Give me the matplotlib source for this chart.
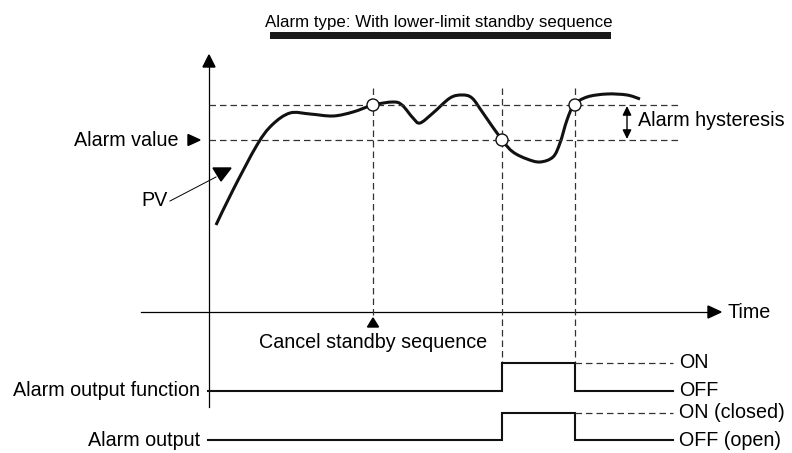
import numpy as np
import matplotlib
matplotlib.use('Agg')
import matplotlib.pyplot as plt
from matplotlib.path import Path
from matplotlib.patches import PathPatch, Polygon, Circle

plt.rcParams['font.family'] = ['Liberation Sans', 'DejaVu Sans']

# Diagram drawn in pixel-like units (x to the right, y downward)
TITLE = 'Alarm type: With lower-limit standby sequence'

# PV curve
pv_x = [216, 233, 257, 272, 290, 310, 333, 353, 373, 393, 402, 413, 420, 433, 450,
        462, 472, 483, 502, 513, 527, 540, 553, 560, 567, 574, 587, 607, 627, 640]
pv_y = [225, 190, 145, 125, 113, 114, 116, 112, 105, 102, 105, 118, 123, 113, 98,
        95, 98, 113, 140, 152, 159, 162, 157, 143, 120, 105, 97, 94, 95, 99]

hyst_top = 105        # upper dashed level
alarm_value = 140     # alarm value (lower dashed level)
time_axis_y = 312

event_x = [373, 502, 575]          # cancel standby, alarm ON, alarm OFF
crossing_y = [105, 140, 105]       # circle markers on the PV curve

# output signal rows
rows = [
    dict(name='Alarm output function', off=391, on=363, labels=('ON', 'OFF')),
    dict(name='Alarm output', off=440, on=413, labels=('ON (closed)', 'OFF (open)')),
]


def smooth_path(xs, ys):
    # Catmull-Rom through the read points, handed to matplotlib as cubic Beziers
    p = np.column_stack([xs, ys]).astype(float)
    verts = [p[0]]
    codes = [Path.MOVETO]
    for i in range(len(p) - 1):
        p0 = p[i - 1] if i > 0 else p[i]
        p1, p2 = p[i], p[i + 1]
        p3 = p[i + 2] if i + 2 < len(p) else p[i + 1]
        c1 = p1 + (p2 - p0) / 6.0
        c2 = p2 - (p3 - p1) / 6.0
        verts += [c1, c2, p2]
        codes += [Path.CURVE4] * 3
    return Path(verts, codes)


fig = plt.figure(figsize=(7.92, 4.53), dpi=100)
ax = fig.add_axes([0, 0, 1, 1])
ax.set_xlim(0, 792)
ax.set_ylim(453, 0)
ax.axis('off')

FS = 14.2
dash = (0, (5.2, 3.2))
dash_col = '#333333'

# title with underline bar
ax.text(439, 26.5, TITLE, ha='center', va='baseline', fontsize=12.2)
ax.fill_between([270, 611], 32, 39, color='#1a1a1a', lw=0)

# axes with arrowheads
ax.plot([209, 209], [64, 407], color='k', lw=0.9)
ax.add_patch(Polygon([[209, 55], [203, 67], [215, 67]], closed=True, color='k'))
ax.plot([141, 710], [time_axis_y, time_axis_y], color='k', lw=0.9)
ax.add_patch(Polygon([[721, time_axis_y], [708, time_axis_y - 6], [708, time_axis_y + 6]],
                     closed=True, color='k'))
ax.text(727, time_axis_y, 'Time', ha='left', va='center', fontsize=FS)

# dashed levels
for lev in (hyst_top, alarm_value):
    ax.plot([209, 680], [lev, lev], color=dash_col, lw=0.9, linestyle=dash)

# vertical dashed event lines
ax.plot([event_x[0], event_x[0]], [88, 318], color=dash_col, lw=0.9, linestyle=dash)
for ex in event_x[1:]:
    ax.plot([ex, ex], [88, rows[0]['on']], color=dash_col, lw=0.9, linestyle=dash)

# PV curve
ax.add_patch(PathPatch(smooth_path(pv_x, pv_y), fill=False, lw=2.2, edgecolor='#111111',
                       capstyle='butt'))
for ex, cy in zip(event_x, crossing_y):
    ax.add_patch(Circle((ex, cy), 6, facecolor='white', edgecolor='#111111', lw=1.0, zorder=5))

# Alarm value label
ax.text(178, alarm_value + 1, 'Alarm value', ha='right', va='center', fontsize=FS)
ax.add_patch(Polygon([[200, alarm_value], [188, alarm_value - 5.5], [188, alarm_value + 5.5]],
                     closed=True, color='k'))

# PV pointer
ax.plot([170, 216], [201, 177], color='k', lw=0.7)
ax.add_patch(Polygon([[213, 168], [231, 168], [221, 181]], closed=True, color='k'))
ax.text(168, 201, 'PV', ha='right', va='center', fontsize=FS)

# Alarm hysteresis arrow
ax.annotate('', xy=(627, hyst_top + 1), xytext=(627, alarm_value - 1),
            arrowprops=dict(arrowstyle='<|-|>,head_length=0.45,head_width=0.22',
                            lw=1.0, color='k', shrinkA=0, shrinkB=0, mutation_scale=12))
ax.text(638, 121, 'Alarm hysteresis', ha='left', va='center', fontsize=FS)

# Cancel standby sequence
ax.add_patch(Polygon([[event_x[0], 318], [367.5, 327], [378.5, 327]], closed=True, color='k'))
ax.text(373, 343, 'Cancel standby sequence', ha='center', va='center', fontsize=FS)

# output rows
for r in rows:
    off, on = r['off'], r['on']
    xs = [208, event_x[1], event_x[1], event_x[2], event_x[2], 673]
    ys = [off, off, on, on, off, off]
    ax.plot(xs, ys, color='#111111', lw=1.5, solid_joinstyle='miter')
    ax.plot([event_x[2], 673], [on, on], color=dash_col, lw=0.9, linestyle=dash)
    ax.text(679, on, r['labels'][0], ha='left', va='center', fontsize=FS)
    ax.text(679, off, r['labels'][1], ha='left', va='center', fontsize=FS)
    ax.text(200, off, r['name'], ha='right', va='center', fontsize=FS)

fig.savefig('out.png', dpi=100)
